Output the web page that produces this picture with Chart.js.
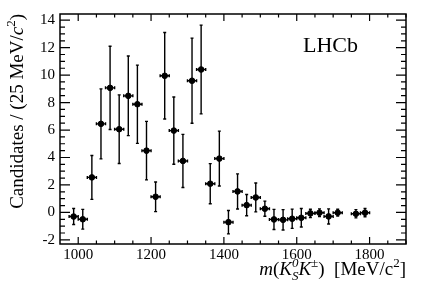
<!DOCTYPE html>
<html>
<head>
<meta charset="utf-8">
<script src="https://cdn.jsdelivr.net/npm/chart.js@4"></script>
<style>
    html, body { margin: 0; padding: 0; background: #fff; }
    #wrap { width: 427px; height: 290px; }
</style>
</head>
<body>
<div id="wrap"><canvas id="massChart" width="427" height="290"></canvas></div>
<script>
// Bin centres (MeV/c^2), 25 MeV wide bins
const massBins = [987.5, 1012.5, 1037.5, 1062.5, 1087.5, 1112.5, 1137.5, 1162.5, 1187.5, 1212.5,
    1237.5, 1262.5, 1287.5, 1312.5, 1337.5, 1362.5, 1387.5, 1412.5, 1437.5, 1462.5,
    1487.5, 1512.5, 1537.5, 1562.5, 1587.5, 1612.5, 1637.5, 1662.5, 1687.5, 1712.5,
    1762.5, 1787.5];
const candidates = [-0.3, -0.5, 2.55, 6.45, 9.07, 6.06, 8.49, 7.88, 4.5, 1.14,
    9.95, 5.96, 3.75, 9.59, 10.41, 2.09, 3.92, -0.71, 1.53, 0.53,
    1.09, 0.27, -0.51, -0.54, -0.46, -0.39, -0.07, -0.02, -0.29, -0.02,
    -0.1, -0.02];
const candErrors = [0.58, 0.72, 1.6, 2.55, 3.03, 2.5, 2.9, 2.85, 2.13, 1.08,
    3.15, 2.45, 1.93, 3.1, 3.23, 1.46, 2.0, 0.85, 1.28, 0.77,
    1.05, 0.55, 0.73, 0.74, 0.7, 0.67, 0.3, 0.28, 0.55, 0.25,
    0.3, 0.3];
const binHalfWidth = 12.5;

const serif = "'Liberation Serif', 'DejaVu Serif', serif";

// draw a sequence of text runs (for sub/superscripts), right aligned at x
function drawRuns(ctx, runs, x, y) {
    let total = 0;
    runs.forEach(r => {
        ctx.font = r.font;
        r.w = r.advance !== undefined ? r.advance : ctx.measureText(r.text).width;
        total += r.w;
    });
    let cx = x - total;
    ctx.textAlign = "left";
    ctx.textBaseline = "alphabetic";
    runs.forEach(r => {
        ctx.font = r.font;
        ctx.fillText(r.text, cx, y + (r.dy || 0));
        cx += r.w;
    });
}

// ROOT style frame, inner ticks, error bars and labels
const lhcbStyle = {
    id: "lhcbStyle",
    afterDatasetsDraw(chart) {
        const ctx = chart.ctx;
        const area = chart.chartArea;
        const xs = chart.scales.x;
        const ys = chart.scales.y;
        ctx.save();
        ctx.strokeStyle = "#000";
        ctx.fillStyle = "#000";

        // error bars
        ctx.lineWidth = 1.4;
        massBins.forEach((m, i) => {
            const px = xs.getPixelForValue(m);
            const py = ys.getPixelForValue(candidates[i]);
            const x0 = xs.getPixelForValue(m - binHalfWidth);
            const x1 = xs.getPixelForValue(m + binHalfWidth);
            const y0 = ys.getPixelForValue(candidates[i] - candErrors[i]);
            const y1 = ys.getPixelForValue(candidates[i] + candErrors[i]);
            ctx.beginPath();
            ctx.moveTo(x0, py); ctx.lineTo(x1, py);
            ctx.moveTo(x0, py - 1.5); ctx.lineTo(x0, py + 1.5);
            ctx.moveTo(x1, py - 1.5); ctx.lineTo(x1, py + 1.5);
            ctx.moveTo(px, y0); ctx.lineTo(px, y1);
            ctx.moveTo(px - 1.5, y0); ctx.lineTo(px + 1.5, y0);
            ctx.moveTo(px - 1.5, y1); ctx.lineTo(px + 1.5, y1);
            ctx.stroke();
        });

        // frame
        ctx.lineWidth = 1.5;
        ctx.strokeRect(area.left, area.top, area.right - area.left, area.bottom - area.top);

        // x ticks (major 200, minor 50) on bottom and top
        ctx.lineWidth = 1.2;
        ctx.beginPath();
        for (let v = 1000; v <= xs.max; v += 50) {
            const px = xs.getPixelForValue(v);
            const len = v % 200 === 0 ? 7 : 3.5;
            ctx.moveTo(px, area.bottom); ctx.lineTo(px, area.bottom - len);
            ctx.moveTo(px, area.top); ctx.lineTo(px, area.top + len);
        }
        // y ticks (major 2, minor 0.5) on left and right
        for (let v = -2; v <= ys.max; v += 0.5) {
            const py = ys.getPixelForValue(v);
            const len = v % 2 === 0 ? 10 : 5;
            ctx.moveTo(area.left, py); ctx.lineTo(area.left + len, py);
            ctx.moveTo(area.right, py); ctx.lineTo(area.right - len, py);
        }
        ctx.stroke();

        // LHCb label
        ctx.font = "22px " + serif;
        ctx.textAlign = "left";
        ctx.textBaseline = "alphabetic";
        ctx.fillText("LHCb", 303, 52);

        // x axis title
        const big = "19px " + serif;
        const bigIt = "italic 19px " + serif;
        const small = "13px " + serif;
        const smallIt = "italic 13px " + serif;
        ctx.font = smallIt;
        const subW = Math.max(ctx.measureText("S").width, ctx.measureText("0").width);
        drawRuns(ctx, [
            { text: "m", font: bigIt },
            { text: "(", font: big },
            { text: "K", font: bigIt },
            { text: "0", font: smallIt, dy: -8, advance: 0 },
            { text: "S", font: smallIt, dy: 5, advance: subW },
            { text: "K", font: bigIt },
            { text: "\u00b1", font: smallIt, dy: -8 },
            { text: ")", font: big },
            { text: "  [MeV/c", font: big },
            { text: "2", font: small, dy: -8 },
            { text: "]", font: big }
        ], area.right, 275);

        // y axis title (rotated)
        ctx.translate(23, area.top);
        ctx.rotate(-Math.PI / 2);
        drawRuns(ctx, [
            { text: "Candidates / (25 MeV/", font: big },
            { text: "c", font: bigIt },
            { text: "2", font: small, dy: -8 },
            { text: ")", font: big }
        ], 0, 0);
        ctx.restore();
    }
};

const ctx = document.getElementById("massChart").getContext("2d");
new Chart(ctx, {
    type: "scatter",
    data: {
        datasets: [{
            data: massBins.map((m, i) => ({ x: m, y: candidates[i] })),
            backgroundColor: "#000",
            borderColor: "#000",
            pointRadius: 2.8,
            pointHoverRadius: 2.8,
            clip: false,
        }],
    },
    options: {
        responsive: false,
        animation: false,
        events: [],
        layout: { padding: { top: 14, right: 21, left: 0, bottom: 0 } },
        plugins: {
            legend: { display: false },
            tooltip: { enabled: false },
        },
        scales: {
            x: {
                type: "linear",
                min: 950,
                max: 1900,
                grid: { display: false, drawTicks: false },
                border: { display: false },
                ticks: {
                    stepSize: 200,
                    includeBounds: false,
                    maxRotation: 0,
                    padding: 2,
                    color: "#000",
                    font: { family: serif, size: 15 },
                    callback: (v) => String(v),
                },
                afterFit: (scale) => { scale.height = 46; },
            },
            y: {
                type: "linear",
                min: -2.3,
                max: 14.45,
                grid: { display: false, drawTicks: false },
                border: { display: false },
                ticks: {
                    stepSize: 2,
                    includeBounds: false,
                    padding: 5,
                    color: "#000",
                    font: { family: serif, size: 15 },
                    callback: (v) => String(v),
                },
                afterFit: (scale) => { scale.width = 60; },
            },
        },
    },
    plugins: [lhcbStyle],
});
</script>
</body>
</html>
